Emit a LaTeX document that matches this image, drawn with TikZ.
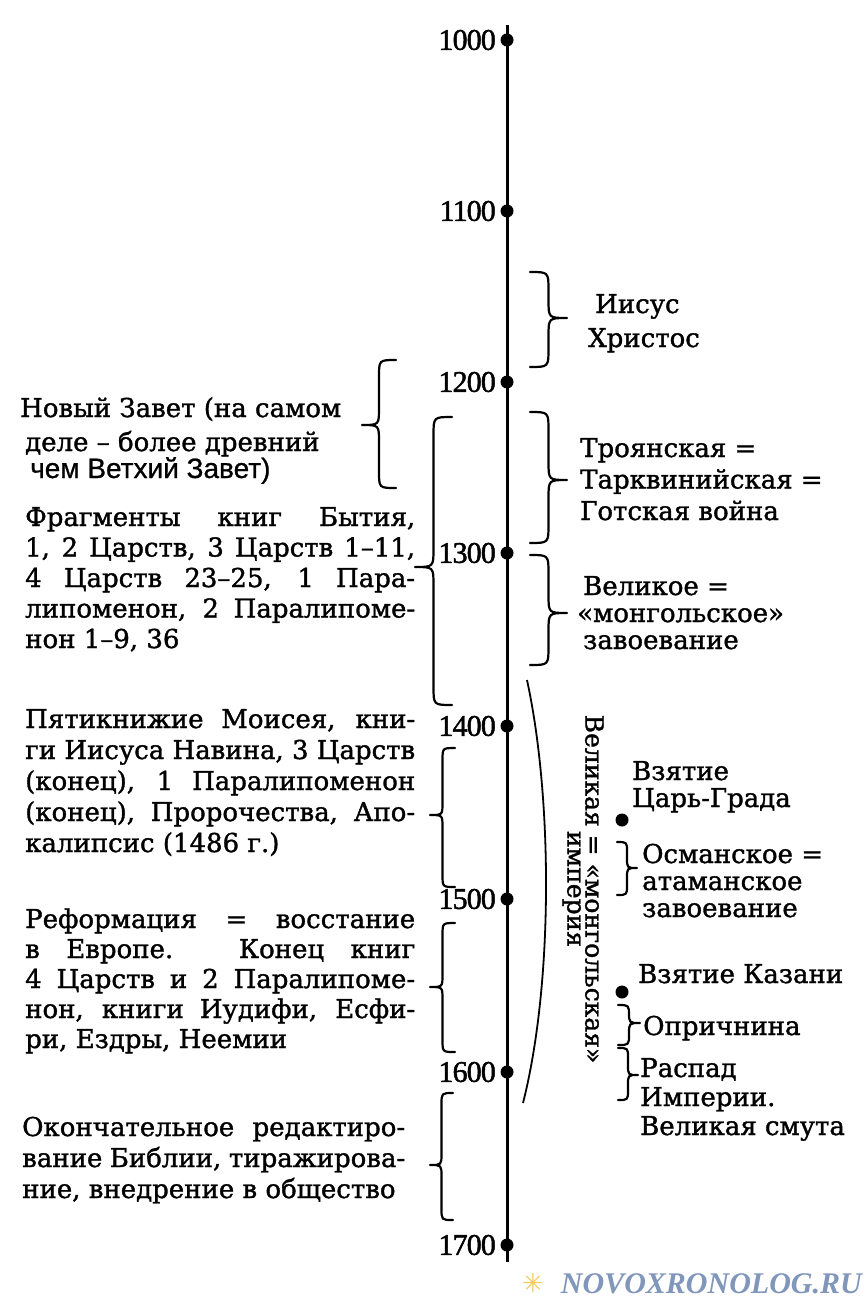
\documentclass[tikz,border=0pt]{standalone}
\usepackage{fontspec}
\setmainfont{DejaVu Serif}[FakeBold=1.3]
\newfontfamily\yearfont{Liberation Serif}[FakeBold=1.6,LetterSpace=-3]
\newfontfamily\sansf{Liberation Sans}[FakeBold=0.8]
\newfontfamily\wmfont{Liberation Serif}
\newfontfamily\symf{DejaVu Sans}
\definecolor{wmblue}{RGB}{128,150,186}
\definecolor{wmstar}{RGB}{244,204,90}
\newcommand\jl[2][390pt]{\hbox to #1{#2}}
\newcommand\nl[1]{\hbox{#1}}
\newcommand\stack[2]{\vtop{\baselineskip=#1\lineskiplimit=-100pt\lineskip=0pt #2}}
\newcommand\brc[5]{%
  \pgfmathsetmacro\brcM{(#1+#4)/2}%
  \pgfmathsetmacro\brcH{abs(#4-#1)/2}%
  \draw[bracel] (#1,#2) .. controls (\brcM,#2) .. (\brcM,#2+\brcH) -- (\brcM,#5-\brcH)
     .. controls (\brcM,#5) .. (#4,#5) .. controls (\brcM,#5) .. (\brcM,#5+\brcH)
     -- (\brcM,#3-\brcH) .. controls (\brcM,#3) .. (#1,#3);}
\begin{document}
\begin{tikzpicture}[x=1pt,y=-1pt,
  dot/.style={circle,fill=black,inner sep=0pt,minimum size=13pt},
  yearlab/.style={font=\yearfont\fontsize{30}{30}\selectfont,anchor=east,inner sep=0pt},
  txt/.style={font=\fontsize{26}{31}\selectfont,inner sep=0pt,anchor=base west},
  bracel/.style={line width=2.2pt,line cap=round,line join=round},
  axisline/.style={line width=3pt},
  arcline/.style={line width=1.8pt}]
\useasboundingbox[fill=white] (0,0) rectangle (865,1300);

% axis
\coordinate (atop) at (507,25);
\coordinate (abot) at (507,1262);
\draw[axisline] (atop) -- (abot);
\foreach \yr/\yy in {1000/40,1100/211,1200/382,1300/553,1400/726,1500/899,1600/1072,1700/1245}{
  \node[dot] (d\yr) at (507,\yy) {};
  \node[yearlab] (y\yr) at (496,\yy) {\yr};
}

% left blocks
\node[txt] (nz) at (20,417) {\stack{34pt}{\nl{Новый Завет (на самом}\nl{\kern5pt деле – более древний}\baselineskip=27pt\nl{\kern10pt\sansf\fontsize{28}{28}\selectfont чем Ветхий Завет)}}};
\node[txt] (fr) at (25,526) {\stack{30.5pt}{%
  \jl{Фрагменты книг Бытия,}
  \jl{1, 2 Царств, 3 Царств 1–11,}
  \jl{4 Царств 23–25, 1 Пара-}
  \jl{липоменон, 2 Паралипоме-}
  \nl{нон 1–9, 36}}};
\node[txt] (pm) at (25,728) {\stack{31pt}{%
  \jl{Пятикнижие Моисея, кни-}
  \jl{ги Иисуса Навина, 3 Царств}
  \jl{(конец), 1 Паралипоменон}
  \jl{(конец), Пророчества, Апо-}
  \nl{калипсис (1486 г.)}}};
\node[txt] (rf) at (25,928) {\stack{30pt}{%
  \jl{Реформация = восстание}
  \jl{в Европе. Конец книг}
  \jl{4 Царств и 2 Паралипоме-}
  \jl{нон, книги Иудифи, Есфи-}
  \nl{ри, Ездры, Неемии}}};
\node[txt] (ok) at (22,1136) {\stack{31pt}{%
  \jl[383pt]{Окончательное редактиро-}
  \jl[383pt]{вание Библии, тиражирова-}
  \nl{ние, внедрение в общество}}};

% left braces
\brc{396}{360}{488}{362}{425}
\brc{452}{417}{705}{415}{567}
\brc{455}{748}{887}{430}{815}
\brc{455}{923}{1052}{430}{987}
\brc{453}{1093}{1220}{430}{1165}

% right blocks
\node[txt] (ii) at (588,313) {\stack{34pt}{\nl{\kern7pt Иисус}\nl{Христос}}};
\node[txt] (tr) at (580,457) {\stack{31.5pt}{\nl{Троянская =}\nl{Тарквинийская =}\nl{Готская война}}};
\node[txt] (vm) at (583,595) {\stack{27pt}{\nl{Великое =}\nl{\kern-6pt«монгольское»}\nl{завоевание}}};
\node[txt] (cg) at (632,780) {\stack{27pt}{\nl{Взятие}\nl{Царь-Града}}};
\node[txt] (os) at (642,863) {\stack{27pt}{\nl{Османское =}\nl{атаманское}\nl{завоевание}}};
\node[txt] (kz) at (638,983) {Взятие Казани};
\node[txt] (op) at (643,1035) {Опричнина};
\node[txt] (rs) at (640,1077) {\stack{29pt}{\nl{Распад}\nl{Империи.}\nl{Великая смута}}};

% right braces
\brc{530}{272}{367}{567}{318}
\brc{530}{412}{543}{567}{480}
\brc{530}{555}{665}{567}{613}
\brc{617}{842}{895}{637}{868}
\brc{618}{1005}{1045}{640}{1023}
\brc{618}{1048}{1100}{638}{1075}

% event dots
\node[dot] (ecg) at (622,820) {};
\node[dot] (ekz) at (622,992) {};

% empire arc and label
\coordinate (arcA) at (527,680);
\coordinate (arcB) at (523,1103);
\draw[arcline] (arcA) .. controls (553,800) and (553,985) .. (arcB);
\node[rotate=-90,align=center,inner sep=0pt,font=\fontsize{25}{18}\selectfont] (emp) at (583,889) {Великая = «монгольская»\\империя};

% watermark
\node[anchor=base east,inner sep=0pt,text=wmblue,font=\wmfont\bfseries\itshape\fontsize{30}{30}\selectfont] (wm) at (862,1293) {NOVOXRONOLOG.RU};
\node[inner sep=0pt,text=wmstar,font=\symf\fontsize{26}{26}\selectfont] (wst) at (533,1283) {✳};
\end{tikzpicture}
\end{document}
